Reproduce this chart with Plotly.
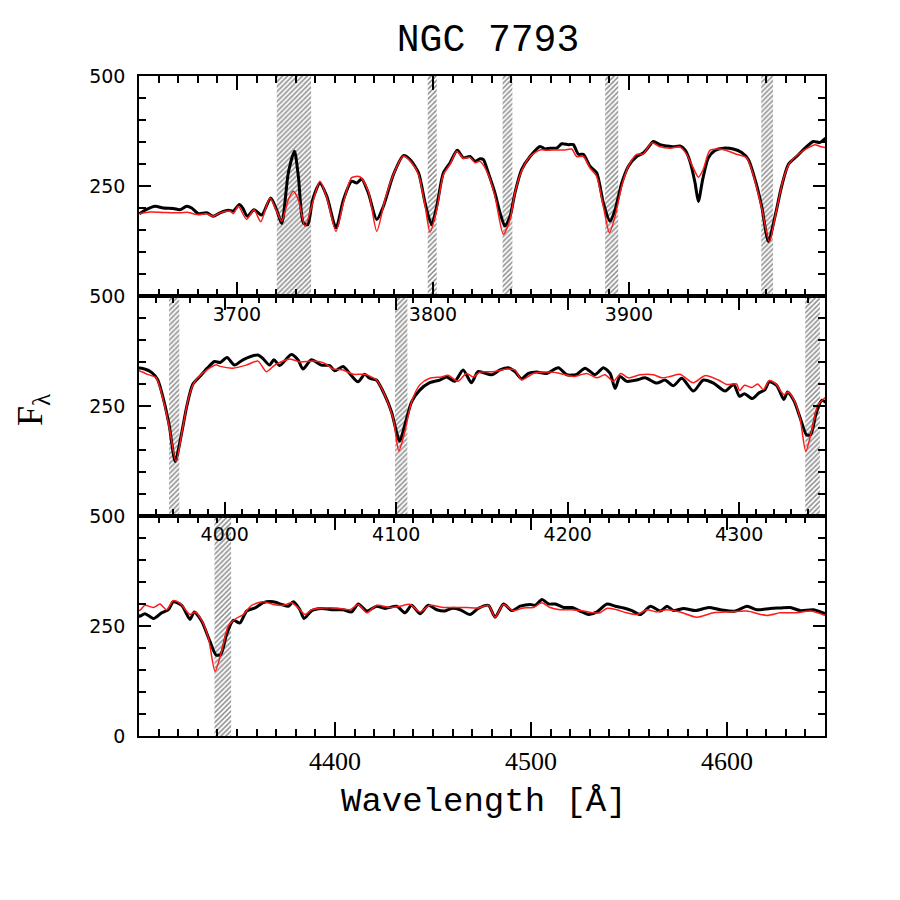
import plotly.graph_objects as go

# ---------------- data ----------------
black_wl = [3650.2,3653.9,3658.2,3662.4,3667.5,3670.9,3674.3,3676.9,3680.3,3684.5,3687.9,3691.3,3695.6,3698.1,
            3701.2,3702.9,3705.3,3708.7,3712.6,3717.2,3720.2,3722.8,3726.2,3729.3,3731.3,3733.9,3736.1,3738.6,
            3742.3,3745.8,3750.5,3754.3,3758.5,3761.1,3763.6,3767.0,3771.3,3774.7,3779.8,3784.9,3788.3,3792.6,
            3796.0,3799.3,3801.9,3805.3,3808.7,3812.4,3815.5,3818.9,3821.5,
            3824.0,3825.7,3828.2,3831.6,3834.2,3836.7,3839.3,3841.8,3845.2,3849.5,3854.6,3857.2,3859.7,3863.1,
            3865.7,3869.1,3871.6,3874.2,3876.7,3880.1,3883.5,3886.9,3890.3,3892.9,3896.3,3899.7,3903.9,3907.3,
            3909.9,3912.4,3915.8,3919.2,3922.6,3926.0,3928.6,3931.1,3933.7,3935.4,3937.6,3940.5,3943.9,3948.1,
            3953.2,3957.5,3960.9,3964.3,3967.7,3971.1,3974.5,3977.9,3981.3,3985.5,3989.8,3994.0,3997.4,
            4001.3,4005.7,4010.6,4019.4,4022.2,4026.1,4028.7,4032.0,4038.8,4042.7,4045.6,4050.5,4056.3,4061.2,
            4064.1,4069.0,4072.8,4077.7,4081.6,4084.5,4088.4,4093.3,4097.2,4102.0,4105.0,4108.9,4113.7,4119.5,
            4125.4,4129.3,4134.1,4139.0,4143.8,4147.7,4155.6,4160.5,4165.4,4169.2,4173.1,4177.0,4181.9,4187.7,
            4194.5,4199.4,4205.2,4210.1,4215.9,4220.8,4224.7,4227.6,4230.5,4234.4,4240.2,4245.1,4251.9,4256.7,
            4261.6,4266.5,4273.3,4279.1,4285.0,4291.8,4296.7,
            4300.2,4303.0,4307.6,4311.6,4315.0,4317.5,4321.8,4326.0,4328.2,4332.0,4336.2,4339.3,4341.7,4344.7,
            4348.1,4351.5,4354.9,4359.2,4363.4,4368.5,4372.8,4376.2,4378.7,4382.1,4384.2,4388.1,4393.2,4399.1,
            4404.2,4408.5,4411.9,4416.2,4421.3,4425.5,4431.5,4435.7,4439.1,4443.4,4447.6,4451.9,4456.1,4459.5,
            4463.8,4468.9,4473.1,4478.3,4481.7,4486.0,4490.2,4494.5,4499.6,4502.2,4505.6,4509.0,4512.4,4516.7,
            4520.9,4526.0,4529.4,4533.7,4538.8,4543.0,4547.3,4551.5,4555.8,4560.9,4566.0,4569.4,4572.8,4577.9,
            4583.9,4590.7,4596.6,4604.3,4610.2,4615.3,4622.1,4627.2,4632.3,4637.4,4644.2,4650.0]
black_flux = [187,197,204,200,199,196,204,200,187,189,181,189,195,193,
              208,200,181,196,184,223,196,165,280,329,272,166,162,219,
              256,227,155,219,261,257,266,234,174,204,276,319,310,280,
              211,162,204,280,303,331,314,317,306,
              312,310,280,234,189,159,181,234,287,317,340,334,336,336,
              346,344,344,322,322,295,280,212,170,196,257,295,317,325,
              338,351,344,341,339,341,332,306,257,215,265,314,331,336,
              334,326,310,265,204,124,181,250,299,317,336,351,349,
              360,343,355,366,358,343,355,342,367,355,334,355,343,342,
              330,340,324,305,322,313,309,275,237,170,207,259,286,303,
              309,316,306,332,303,328,321,332,337,328,312,324,327,324,
              337,321,322,336,321,337,324,290,317,306,309,314,302,309,
              296,313,284,309,302,284,299,
              272,278,267,280,287,305,297,265,282,261,215,184,185,231,
              263,257,284,291,303,305,299,295,305,287,267,285,290,287,
              287,282,300,284,295,290,295,280,297,278,297,287,284,290,
              287,276,290,297,270,300,285,295,299,297,310,300,300,292,
              292,282,276,282,300,295,291,285,276,295,284,295,285,290,
              285,292,287,284,295,287,290,291,292,285,287,278]

red_wl = [3650.2,3655.6,3662.4,3670.9,3675.2,3679.4,3684.5,3687.9,3691.3,3696.4,3698.1,3700.7,3704.9,3708.7,
          3712.1,3716.8,3720.2,3722.8,3726.2,3728.7,3731.3,3734.7,3738.1,3742.3,3746.1,3750.5,3754.3,3758.5,
          3762.7,3767.0,3771.3,3775.5,3779.8,3784.9,3789.1,3792.6,3796.0,3798.5,3801.9,3805.3,3808.7,3812.1,
          3815.5,3818.9,3821.5,
          3824.0,3828.2,3831.6,3835.9,3839.3,3841.8,3845.2,3849.5,3854.6,3858.0,3863.1,3867.4,3870.8,3873.3,
          3876.7,3880.1,3883.5,3886.9,3890.0,3892.9,3896.3,3899.7,3903.9,3907.3,3911.6,3915.8,3920.9,3926.0,
          3929.4,3932.8,3935.4,3937.9,3941.3,3946.4,3951.5,3954.9,3960.0,3964.3,3967.7,3971.6,3975.3,3978.7,
          3982.1,3987.2,3992.3,3994.9,3997.4,
          4004.8,4012.6,4019.4,4024.3,4029.2,4037.9,4043.8,4051.5,4058.3,4063.2,4069.0,4074.9,4081.6,4088.4,
          4093.3,4098.2,4101.5,4105.0,4108.9,4113.7,4119.5,4126.3,4130.2,4136.0,4140.9,4144.8,4148.8,4156.6,
          4164.4,4169.2,4173.1,4179.9,4189.7,4195.5,4203.3,4211.0,4216.9,4221.7,4226.6,4230.9,4235.3,4242.1,
          4249.9,4254.8,4259.6,4265.4,4273.2,4280.0,4287.8,4292.6,4298.4,
          4300.2,4303.0,4307.3,4310.7,4314.1,4317.5,4320.9,4326.0,4328.6,4332.0,4335.4,4338.8,4342.2,4345.6,
          4349.5,4353.2,4357.5,4363.4,4368.5,4373.6,4377.9,4382.1,4384.7,4388.1,4394.0,4400.9,4407.7,4411.9,
          4416.2,4421.3,4428.1,4433.2,4438.3,4443.4,4448.5,4455.3,4462.1,4467.2,4473.1,4478.3,4481.7,4485.9,
          4491.0,4496.1,4501.2,4505.5,4509.7,4514.8,4520.8,4526.7,4531.8,4535.2,4538.6,4543.7,4548.8,4554.0,
          4559.1,4564.1,4569.2,4576.0,4584.6,4593.1,4601.6,4610.1,4620.3,4627.2,4635.7,4642.5,4650.1]
red_flux = [187,191,190,189,190,185,187,181,189,193,187,204,174,196,
            169,223,193,170,219,238,219,158,204,261,219,147,212,269,
            271,238,147,219,276,318,303,276,204,145,196,276,299,329,
            313,315,303,
            306,276,227,140,174,234,284,317,332,331,332,332,334,317,
            317,291,272,204,144,181,250,295,322,323,348,339,336,339,
            322,291,270,288,331,334,328,322,314,261,200,124,196,265,
            303,325,339,344,340,
            336,343,352,328,343,357,350,352,347,334,332,322,322,309,
            275,222,148,192,259,298,313,316,320,306,324,316,327,328,
            334,332,309,324,327,324,317,324,314,321,306,324,314,321,
            321,314,317,322,303,319,309,299,300,
            285,297,292,300,287,308,302,276,282,263,223,147,193,250,
            267,276,297,305,299,297,303,287,276,287,291,291,287,299,
            280,297,292,295,299,282,297,292,292,292,291,297,270,299,
            285,291,292,303,292,287,287,284,280,280,290,287,280,276,
            287,282,287,282,270,280,282,284,274,280,280,284,274]

# masked (hatched) wavelength windows
band_lo = [3720.3, 3797.3, 3835.5, 3887.8, 3967.5, 4099.3, 4338.5]
band_hi = [3737.8, 3801.9, 3840.5, 3894.5, 3973.5, 4106.5, 4347.0]

# panel wavelength ranges and tick labels
panel_ranges = [[3650, 4000], [3950, 4350], [4300, 4650]]
panel_xticks = [[3700, 3800, 3900], [4000, 4100, 4200, 4300], [4400, 4500, 4600]]
panel_yticks = [[250, 500], [250, 500], [0, 250, 500]]
flux_range = [0, 500]

# ---------------- figure ----------------
fig = go.Figure()
band_c = [(a + b) / 2 for a, b in zip(band_lo, band_hi)]
band_w = [b - a for a, b in zip(band_lo, band_hi)]

domains = [[2/3, 1.0], [1/3, 2/3], [0.0, 1/3]]
for i in range(3):
    xa = "x" if i == 0 else f"x{i+1}"
    ya = "y" if i == 0 else f"y{i+1}"
    fig.add_trace(go.Bar(x=band_c, y=[flux_range[1]] * len(band_c), base=[flux_range[0]] * len(band_c),
                         width=band_w, xaxis=xa, yaxis=ya, showlegend=False, hoverinfo="skip",
                         marker=dict(color="rgba(0,0,0,0)", line=dict(width=0),
                                     pattern=dict(shape="/", fgcolor="#1e1e1e", size=3.5, solidity=0.45))))
    fig.add_trace(go.Scatter(x=black_wl, y=black_flux, mode="lines", xaxis=xa, yaxis=ya, showlegend=False,
                             line=dict(color="black", width=3, shape="spline", smoothing=0.7)))
    fig.add_trace(go.Scatter(x=red_wl, y=red_flux, mode="lines", xaxis=xa, yaxis=ya, showlegend=False,
                             line=dict(color="#ff1a1a", width=1.5, shape="spline", smoothing=0.7)))

for i in range(3):
    xk = "xaxis" if i == 0 else f"xaxis{i+1}"
    yk = "yaxis" if i == 0 else f"yaxis{i+1}"
    ya = "y" if i == 0 else f"y{i+1}"
    xa = "x" if i == 0 else f"x{i+1}"
    bottom = (i == 2)
    fig.layout[xk] = dict(
        domain=[0, 1], anchor=ya, range=panel_ranges[i], tickvals=panel_xticks[i],
        ticks="inside", ticklen=14, tickwidth=1.5, tickcolor="black",
        showline=True, linewidth=1.6, linecolor="black", mirror="allticks",
        showgrid=False, zeroline=False,
        ticklabelstandoff=1 if bottom else 0,
        tickfont=dict(family="Liberation Serif" if bottom else "DejaVu Sans",
                      size=26 if bottom else 19, color="black"),
        minor=dict(dtick=10, tick0=0, ticks="inside", ticklen=7, tickwidth=1.5, tickcolor="black", showgrid=False),
    )
    fig.layout[yk] = dict(
        domain=domains[i], anchor=xa, range=flux_range, tickvals=panel_yticks[i],
        ticks="inside", ticklen=12, tickwidth=1.5, tickcolor="black",
        showline=True, linewidth=1.6, linecolor="black", mirror="allticks",
        showgrid=False, zeroline=False, ticklabelstandoff=8,
        tickfont=dict(family="DejaVu Sans", size=19, color="black"),
        minor=dict(dtick=50, tick0=0, ticks="inside", ticklen=7, tickwidth=1.5, tickcolor="black", showgrid=False),
    )

fig.update_layout(
    width=900, height=900,
    margin=dict(l=139, r=75, t=76, b=164),
    paper_bgcolor="white", plot_bgcolor="rgba(0,0,0,0)",
    barmode="overlay",
    title=dict(text="NGC 7793", x=488/900, xanchor="center", y=1 - 38/900, yanchor="middle",
               font=dict(family="Liberation Mono", size=38, color="black")),
    annotations=[
        dict(text="Wavelength [Å]", xref="paper", yref="paper", x=(484 - 139) / 686, y=(736 - 802) / 660,
             xanchor="center", yanchor="middle", showarrow=False,
             font=dict(family="Liberation Mono", size=34, color="black")),
        dict(text="F<sub>λ</sub>", xref="paper", yref="paper", x=(32 - 139) / 686, y=(736 - 410) / 660,
             xanchor="center", yanchor="middle", showarrow=False, textangle=-90,
             font=dict(family="Liberation Serif", size=36, color="black")),
    ],
)

fig.write_html("out.html", config={"displayModeBar": False},
               post_script="document.body.style.margin='0';")
